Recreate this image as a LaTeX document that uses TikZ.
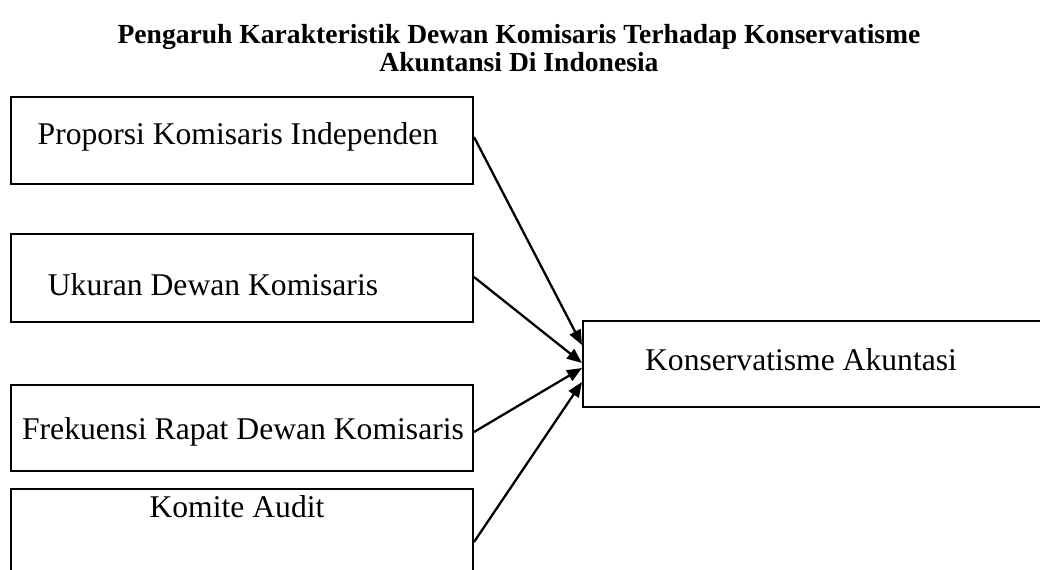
\documentclass[tikz,border=0pt]{standalone}
\usepackage{fontspec}
\setmainfont{Liberation Serif}
\usetikzlibrary{arrows.meta}

\tikzset{
  varbox/.style={draw,line width=1.2pt,inner sep=0pt},
  varlabel/.style={inner sep=0pt,font=\fontsize{18}{21}\selectfont},
  effect/.style={line width=1.3pt,-{Triangle[length=0.3cm,width=0.24cm]}}
}

\begin{document}
\begin{tikzpicture}[x=0.02cm,y=-0.02cm]
\useasboundingbox (0,0) rectangle (1040,569);
\clip (0,0) rectangle (1040,569);
\node[align=center,font=\fontsize{15.7}{16}\bfseries] (title) at (519,48)
  {Pengaruh Karakteristik Dewan Komisaris Terhadap Konservatisme\\Akuntansi Di Indonesia};
% independent variables
\node[varbox,minimum width=9.24cm,minimum height=1.74cm] (pki) at (242,140.5) {};
\node[varbox,minimum width=9.24cm,minimum height=1.76cm] (udk) at (242,278) {};
\node[varbox,minimum width=9.24cm,minimum height=1.72cm] (frk) at (242,428) {};
\node[varbox,minimum width=9.24cm,minimum height=2.4cm] (kau) at (242,549) {};
\node[varlabel] (pkitext) at (238,137) {Proporsi Komisaris Independen};
\node[varlabel] (udktext) at (213,285) {Ukuran Dewan Komisaris};
\node[varlabel] (frktext) at (243,432) {Frekuensi Rapat Dewan Komisaris};
\node[varlabel] (kautext) at (237,507) {Komite Audit};
% dependent variable
\node[varbox,minimum width=9.8cm,minimum height=1.72cm] (kon) at (828,364) {};
\node[varlabel] (kontext) at (801,360) {Konservatisme Akuntasi};
% arrows
\draw[effect] ([yshift=0.07cm]pki.east) -- ([yshift=0.38cm]kon.west);
\draw[effect] ([yshift=0.02cm]udk.east) -- ([yshift=0.02cm]kon.west);
\draw[effect] ([yshift=-0.08cm]frk.east) -- ([yshift=-0.08cm]kon.west);
\draw[effect] ([yshift=0.14cm]kau.east) -- ([yshift=-0.36cm]kon.west);
\end{tikzpicture}
\end{document}
